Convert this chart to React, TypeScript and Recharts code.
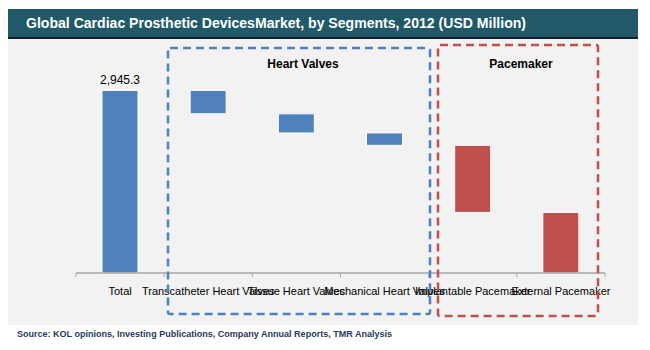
import { BarChart, Bar, XAxis, YAxis, Cell, LabelList } from 'recharts';

const categories = [
  'Total',
  'Transcatheter Heart Valves',
  'Tissue Heart Valves',
  'Mechanical Heart Valves',
  'Implantable Pacemaker',
  'External Pacemaker',
];
const totalValue = 2945.3;
const segmentValues = [378, 308, 200, 1082, 977.3];
const segmentGroups = ['valves', 'valves', 'valves', 'pacemaker', 'pacemaker'];

const BLUE = '#4f81bd';
const RED = '#c0504d';
const FONT = '"Liberation Sans", Arial, sans-serif';

// waterfall: transparent base + visible step
let running = totalValue;
const data = categories.map((name, i) => {
  if (i === 0) {
    return { name, base: 0, value: totalValue, group: 'total', label: totalValue.toLocaleString('en-US', { minimumFractionDigits: 1 }) };
  }
  const v = segmentValues[i - 1];
  running -= v;
  return { name, base: Math.max(running, 0), value: v, group: segmentGroups[i - 1], label: '' };
});

const BAND = (605 - 76) / categories.length;

function Tick(props: any) {
  const { x, payload, index } = props;
  const axisY = 273;
  return (
    <g>
      <line x1={x - BAND / 2} x2={x - BAND / 2} y1={axisY} y2={axisY + 4} stroke="#a6a6a6" />
      {index === categories.length - 1 && (
        <line x1={x + BAND / 2} x2={x + BAND / 2} y1={axisY} y2={axisY + 4} stroke="#a6a6a6" />
      )}
      <text x={x} y={295} textAnchor="middle" fontSize={11} fill="#000" fontFamily={FONT}>
        {payload.value}
      </text>
    </g>
  );
}

export default function App() {
  return (
    <div style={{ position: 'absolute', left: 0, top: 0, width: 650, height: 350, background: '#fff', fontFamily: FONT }}>
      <div style={{ position: 'absolute', left: 8, top: 38, width: 630, height: 287, background: '#f2f2f2' }} />
      <div style={{ position: 'absolute', left: 8, top: 9, width: 630, height: 28, background: '#215968', borderBottom: '2px solid #0e2329' }} />
      <div style={{ position: 'absolute', left: 0, top: 0 }}>
        <BarChart width={650} height={350} data={data} margin={{ top: 87, right: 45, left: 76, bottom: 47 }}>
          <YAxis hide domain={[0, 3000]} />
          <XAxis
            dataKey="name"
            interval={0}
            height={30}
            axisLine={{ stroke: '#a6a6a6', strokeWidth: 1.5 }}
            tickLine={false}
            tick={<Tick />}
          />
          <Bar dataKey="base" stackId="w" fill="transparent" barSize={36} isAnimationActive={false} />
          <Bar dataKey="value" stackId="w" barSize={36} stroke="#ffffff" strokeWidth={1} isAnimationActive={false}>
            {data.map((d, i) => (
              <Cell key={i} fill={d.group === 'pacemaker' ? RED : BLUE} />
            ))}
            <LabelList dataKey="label" position="top" offset={6} fontSize={12} fill="#000" fontFamily={FONT} />
          </Bar>
        </BarChart>
      </div>
      <svg width={650} height={350} style={{ position: 'absolute', left: 0, top: 0, pointerEvents: 'none' }}>
        <text x={26} y={28} fill="#ffffff" fontWeight="bold" fontSize={14} fontFamily={FONT} textLength={500} lengthAdjust="spacingAndGlyphs">
          Global Cardiac Prosthetic DevicesMarket, by  Segments, 2012 (USD Million)
        </text>
        <rect x={168} y={48} width={262} height={266} rx={2} fill="none" stroke={BLUE} strokeWidth={2.5} strokeDasharray="8 5" />
        <rect x={438} y={45} width={160} height={271} rx={2} fill="none" stroke={RED} strokeWidth={2.5} strokeDasharray="8 5" />
        <text x={303} y={68} textAnchor="middle" fontWeight="bold" fontSize={12} fill="#000" fontFamily={FONT}>Heart Valves</text>
        <text x={521} y={68} textAnchor="middle" fontWeight="bold" fontSize={12} fill="#000" fontFamily={FONT}>Pacemaker</text>
        <text x={17} y={337} fill="#1f3a5a" fontWeight="bold" fontSize={9.5} fontFamily={FONT} textLength={375} lengthAdjust="spacingAndGlyphs">
          Source: KOL opinions, Investing Publications, Company Annual Reports, TMR Analysis
        </text>
      </svg>
    </div>
  );
}
